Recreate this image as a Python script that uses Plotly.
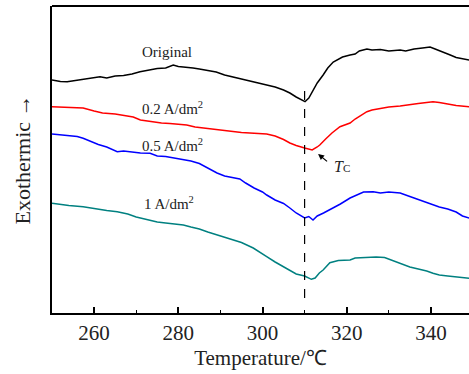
import plotly.graph_objects as go

# Temperature (°C) and heat-flow signals (arbitrary units)
t_orig = [250, 252, 253.6, 256, 258, 260, 261.4, 263, 265, 267, 269, 270.9, 273, 275, 277, 278.8, 280, 282,
          283.5, 285, 287, 289, 291, 293, 295, 297, 299, 301, 303, 305, 306.5, 308, 309, 310.1, 311, 312, 313,
          314.4, 315.5, 316.8, 318, 319, 320.8, 322, 323, 324.8, 326, 328, 330, 332.7, 334, 336, 338, 339.8,
          341, 343, 344.6, 346, 347.5, 349.1]
y_orig = [233, 231.5, 231.3, 233, 234, 235.5, 236.3, 235, 237, 237.5, 239, 241.3, 243, 244.5, 245, 248, 246.5,
          246, 245, 244, 242.5, 241, 238, 236, 234, 232.5, 230, 228, 226, 223, 220, 216, 214, 211.3, 215, 223,
          230, 238, 245, 251, 254, 256, 258, 259, 262, 264, 263, 263.5, 262, 263, 262, 264, 265, 266, 264, 261,
          258, 255.5, 254, 253]

t_02 = [250, 253, 255, 257.4, 260, 262, 265, 267, 269.3, 271, 273, 274, 276, 278, 280, 282, 284, 286, 288, 290,
        293, 295, 297, 299, 301, 303, 305, 306.5, 308, 310, 311.8, 313, 313.6, 315, 316.5, 318.4, 320.8, 322,
        323.5, 324.8, 326, 328, 330, 332.7, 335, 337, 339, 340.5, 342, 344, 346, 349.1]
y_02 = [206.3, 206, 205.5, 205, 202, 200, 199, 197.5, 196, 193, 191.5, 191.3, 190, 189.5, 188.5, 188, 186, 185,
        183.5, 182.5, 181.3, 180.5, 180, 179.5, 179, 177, 173.5, 170, 167.5, 165, 163, 166, 168, 174, 180, 186.3,
        190, 194, 198, 201.3, 203, 204.5, 206, 207, 208, 209.5, 210.5, 211.3, 210.5, 209, 207.5, 206.3]

t_05 = [250, 252, 254, 256, 257.4, 259, 261, 263, 265.5, 267, 269, 271, 273.3, 275, 277, 279, 281.2, 283, 285,
        287, 289.2, 291, 292.5, 294.6, 296, 298, 300, 301, 303, 305, 306.5, 308, 310, 311, 312, 313, 314.5,
        316.8, 318.5, 320.8, 322.5, 324, 326.3, 328, 330, 332.7, 334, 336, 338, 340.5, 342, 344, 346, 347.5,
        349.1]
y_05 = [179, 178, 177, 176.5, 174.7, 172, 168.5, 166, 161.3, 162, 161, 160, 159.7, 157, 156.5, 155, 153, 152,
        149.5, 145, 140, 137, 135.5, 134, 130, 125, 121, 118, 113, 109.5, 105, 100, 95, 96.5, 93, 97, 100, 105,
        109, 115, 118, 121, 121.3, 120, 121, 120, 118, 115, 112, 108, 106, 104, 101, 97, 95]

t_1 = [250, 252, 254, 257.4, 259, 261, 263, 265.5, 268, 270, 273.3, 275, 277, 279, 281.2, 283, 285, 287, 289.2,
       291, 293, 295, 297.8, 299.5, 301, 303, 305, 306.5, 308, 310, 311, 311.6, 312.5, 313.5, 314.4, 316, 318,
       320.8, 322, 324, 325.5, 327, 329, 330.5, 332.7, 335, 337, 339, 340.5, 342, 344, 346, 348, 349.1]
y_1 = [109.7, 108.5, 107.5, 106.3, 105, 104, 102.5, 101.3, 99, 96, 93, 91, 90, 89, 88, 86, 84, 81, 78, 75.5, 73,
       70.5, 65, 60, 56.3, 51, 46.5, 43, 39, 37, 35, 33.7, 35, 40, 43, 50.3, 52.5, 53, 55, 55.5, 56.3, 56, 55.5,
       53, 49.7, 46, 44, 42, 39.7, 38, 37, 36, 35.5, 34.7]

series = [
    ("Original", t_orig, y_orig, "#000000"),
    ("0.2 A/dm<sup>2</sup>", t_02, y_02, "#ff0000"),
    ("0.5 A/dm<sup>2</sup>", t_05, y_05, "#0000ff"),
    ("1 A/dm<sup>2</sup>", t_1, y_1, "#008080"),
]
labels = ["Original", "0.2 A/dm<sup>2</sup>", "0.5 A/dm<sup>2</sup>", "1 A/dm<sup>2</sup>"]
label_x = [270.9, 270.9, 270.9, 271.3]
label_y = [261.5, 205, 168, 110]

tc_temp = 310
font_fam = "Liberation Serif"

fig = go.Figure()
for name, t, y, c in series:
    fig.add_trace(go.Scatter(x=t, y=y, mode="lines", name=name,
                             line=dict(color=c, width=1.5), showlegend=False))

for txt, lx, ly in zip(labels, label_x, label_y):
    fig.add_annotation(x=lx, y=ly, text=txt, showarrow=False, xanchor="left", yanchor="middle",
                       font=dict(family=font_fam, size=15, color="#222"))

# Tc arrow and label
fig.add_annotation(x=313.2, y=159, ax=11, ay=9, axref="pixel", ayref="pixel", text=" ",
                   showarrow=True, arrowhead=2, arrowsize=1, arrowwidth=1.2, arrowcolor="#000",
                   font=dict(size=2))
fig.add_annotation(x=316.6, y=147, text="<i>T</i><span style='font-size:11px'>C</span>", showarrow=False,
                   xanchor="left", yanchor="middle", font=dict(family=font_fam, size=16, color="#222"))

fig.add_shape(type="line", x0=tc_temp, x1=tc_temp, y0=15, y1=231, xref="x", yref="y",
              line=dict(color="#000", width=1.2, dash="dash"))
fig.add_shape(type="line", x0=0, x1=1, y0=1, y1=1, xref="paper", yref="paper",
              line=dict(color="#000", width=1.8))

fig.update_layout(
    width=469, height=374,
    margin=dict(l=52, r=0, t=6, b=61),
    plot_bgcolor="white", paper_bgcolor="white",
    font=dict(family=font_fam, color="#222"),
    xaxis=dict(range=[250, 349.05], showline=True, linecolor="#000", linewidth=1.8,
               ticks="inside", ticklen=6, tickwidth=1.5, tickcolor="#000",
               tickvals=[260, 280, 300, 320, 340], showgrid=False, zeroline=False,
               tickfont=dict(size=21, family=font_fam, color="#222"),
               minor=dict(tickvals=[270, 290, 310, 330], ticks="inside", ticklen=3, tickwidth=1.2,
                          tickcolor="#000", showgrid=False),
               title=dict(text="Temperature/℃", font=dict(size=21, family=font_fam, color="#222"),
                          standoff=6)),
    yaxis=dict(range=[0, 307], showline=True, linecolor="#000", linewidth=1.8,
               showticklabels=False, ticks="", showgrid=False, zeroline=False,
               title=dict(text="Exothermic →", font=dict(size=22, family=font_fam, color="#222"),
                          standoff=13)),
)

fig.write_html("out.html")
